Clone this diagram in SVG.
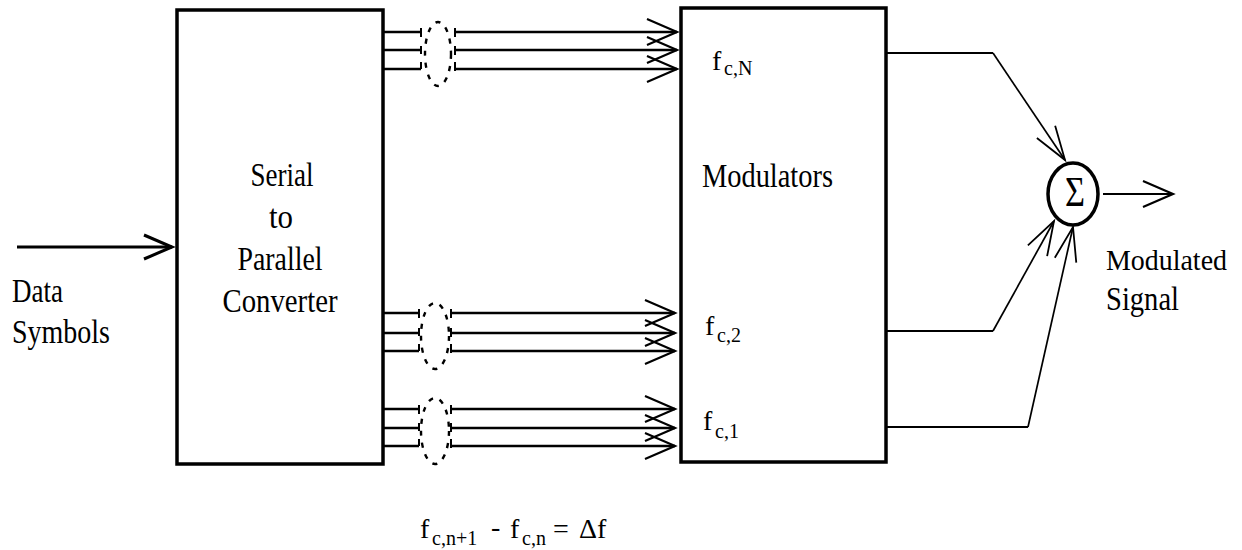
<svg xmlns="http://www.w3.org/2000/svg" width="1242" height="550" viewBox="0 0 1242 550">
<style>
.box{fill:none;stroke:#000;stroke-width:3.5}
.bus{fill:none;stroke:#000;stroke-width:2.6}
.tick{fill:none;stroke:#000;stroke-width:2}
.oval{fill:none;stroke:#000;stroke-width:2.4;stroke-dasharray:5 7}
.wire{fill:none;stroke:#000;stroke-width:2.2}
.diag{fill:none;stroke:#000;stroke-width:1.7}
.lbl{font-family:"Liberation Serif","Times New Roman",serif;font-size:33px;fill:#000}
.f{font-family:"Liberation Serif","Times New Roman",serif;font-size:28px;fill:#000}
.sub{font-family:"Liberation Serif","Times New Roman",serif;font-size:20px;fill:#000}
</style>
<defs>
<marker id="ah" markerUnits="userSpaceOnUse" markerWidth="50" markerHeight="40" viewBox="-40 -20 50 40" refX="0" refY="0" orient="auto" overflow="visible">
<path d="M-30,-13 L0,0 L-30,13" fill="none" stroke="#000" stroke-width="2.2"/>
</marker>
<marker id="ah2" markerUnits="userSpaceOnUse" markerWidth="50" markerHeight="40" viewBox="-40 -20 50 40" refX="0" refY="0" orient="auto" overflow="visible">
<path d="M-34,-11 L0,0 L-34,11" fill="none" stroke="#000" stroke-width="1.8"/>
</marker>
<marker id="ah3" markerUnits="userSpaceOnUse" markerWidth="50" markerHeight="40" viewBox="-40 -20 50 40" refX="0" refY="0" orient="auto" overflow="visible">
<path d="M-28,-12 L0,0 L-28,12" fill="none" stroke="#000" stroke-width="3"/>
</marker>
</defs>
<rect width="1242" height="550" fill="#fff"/>

<g id="serial-to-parallel">
<rect class="box" x="177" y="10" width="206" height="454"/>
<text class="lbl" x="282" y="186" text-anchor="middle" textLength="63" lengthAdjust="spacingAndGlyphs">Serial</text>
<text class="lbl" x="281" y="228" text-anchor="middle" textLength="24" lengthAdjust="spacingAndGlyphs">to</text>
<text class="lbl" x="280" y="270" text-anchor="middle" textLength="85" lengthAdjust="spacingAndGlyphs">Parallel</text>
<text class="lbl" x="280" y="312" text-anchor="middle" textLength="115" lengthAdjust="spacingAndGlyphs">Converter</text>
</g>

<g id="modulators">
<rect class="box" x="681" y="8" width="205" height="454"/>
<text class="lbl" x="702" y="187" textLength="131" lengthAdjust="spacingAndGlyphs">Modulators</text>
<text class="f" x="712" y="70">f</text><text class="sub" x="724" y="75">c,N</text>
<text class="f" x="705" y="335">f</text><text class="sub" x="717" y="342">c,2</text>
<text class="f" x="703" y="430">f</text><text class="sub" x="715" y="438">c,1</text>
</g>

<g id="summer">
<ellipse cx="1073" cy="194" rx="25" ry="31" fill="none" stroke="#000" stroke-width="3.5"/>
<text x="1075" y="206" text-anchor="middle" font-family="Liberation Serif, serif" font-size="42" textLength="20" lengthAdjust="spacingAndGlyphs">Σ</text>
</g>

<g id="input-label">
<text class="lbl" x="12" y="302" textLength="51" lengthAdjust="spacingAndGlyphs">Data</text>
<text class="lbl" x="12" y="343" textLength="98" lengthAdjust="spacingAndGlyphs">Symbols</text>
</g>

<g id="output-label">
<text class="lbl" x="1106" y="270" style="font-size:30px" textLength="121" lengthAdjust="spacingAndGlyphs">Modulated</text>
<text class="lbl" x="1106" y="310" textLength="73" lengthAdjust="spacingAndGlyphs">Signal</text>
</g>

<g id="formula">
<text class="f" x="420" y="538">f</text>
<text class="sub" x="432" y="545">c,n+1</text>
<text class="f" x="491" y="536">-</text>
<text class="f" x="510" y="538">f</text>
<text class="sub" x="522" y="545">c,n</text>
<text class="f" x="553" y="538">=</text>
<text class="f" x="579" y="538">Δf</text>
</g>

<g id="connectors">
<line x1="17" y1="247" x2="172" y2="247" stroke="#000" stroke-width="3" marker-end="url(#ah3)"/>

<g id="bus-N">
<path class="bus" d="M383,32H421M383,50H421M383,69H421"/>
<path class="tick" d="M421,28V37M421,46V54M421,62V69M455,28V37M455,46V55M455,62V71"/>
<ellipse class="oval" cx="438" cy="54" rx="13" ry="32"/>
<line class="bus" x1="455" y1="32" x2="677" y2="32" marker-end="url(#ah)"/>
<line class="bus" x1="455" y1="50" x2="677" y2="50" marker-end="url(#ah)"/>
<line class="bus" x1="455" y1="69" x2="677" y2="69" marker-end="url(#ah)"/>
</g>

<g id="bus-2">
<path class="bus" d="M383,313H419M383,333H419M383,351H419"/>
<path class="tick" d="M419,309V318M419,328V336M419,344V351M451,309V318M451,328V337M451,344V353"/>
<ellipse class="oval" cx="435" cy="336" rx="14" ry="33"/>
<line class="bus" x1="451" y1="313" x2="675" y2="313" marker-end="url(#ah)"/>
<line class="bus" x1="451" y1="333" x2="675" y2="333" marker-end="url(#ah)"/>
<line class="bus" x1="451" y1="351" x2="675" y2="351" marker-end="url(#ah)"/>
</g>

<g id="bus-1">
<path class="bus" d="M383,409H419M383,428H419M383,446H419"/>
<path class="tick" d="M419,405V414M419,423V431M419,439V446M451,405V414M451,423V432M451,439V448"/>
<ellipse class="oval" cx="435" cy="431" rx="14" ry="33"/>
<line class="bus" x1="451" y1="409" x2="675" y2="409" marker-end="url(#ah)"/>
<line class="bus" x1="451" y1="428" x2="675" y2="428" marker-end="url(#ah)"/>
<line class="bus" x1="451" y1="446" x2="675" y2="446" marker-end="url(#ah)"/>
</g>

<path class="wire" d="M886,53H993"/>
<line class="diag" x1="993" y1="53" x2="1065" y2="160" marker-end="url(#ah2)"/>
<path class="wire" d="M886,331H993"/>
<line class="diag" x1="993" y1="331" x2="1054" y2="221" marker-end="url(#ah2)"/>
<path class="wire" d="M886,427H1028"/>
<line class="diag" x1="1028" y1="427" x2="1073" y2="227" marker-end="url(#ah2)"/>
<line x1="1103" y1="194" x2="1173" y2="194" stroke="#000" stroke-width="2" marker-end="url(#ah)"/>
</g>
</svg>
